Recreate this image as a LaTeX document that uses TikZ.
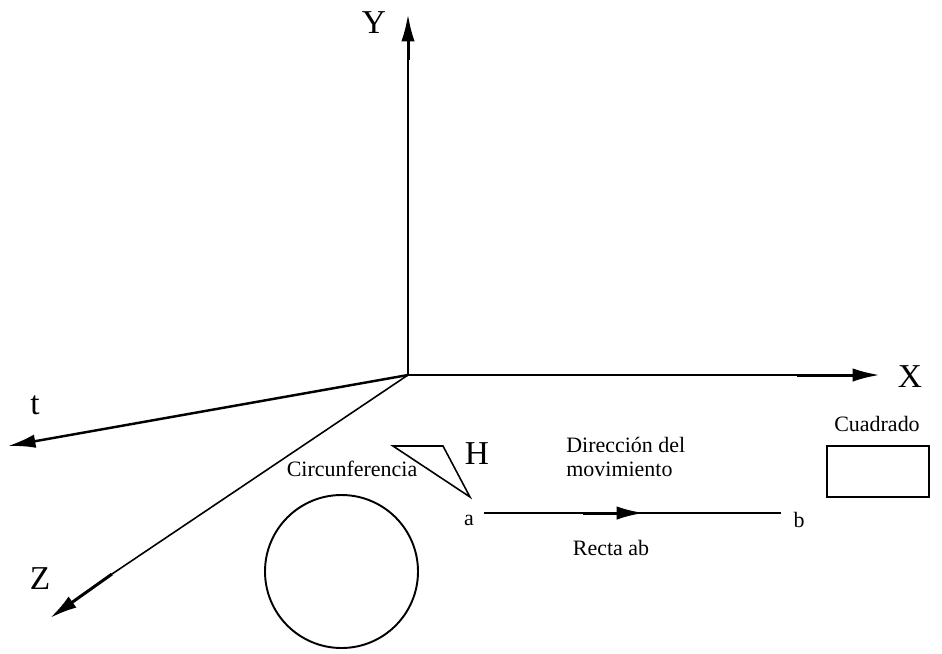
\documentclass[tikz,border=0pt]{standalone}
\usepackage{fontspec}
\setmainfont{Liberation Serif}
\usetikzlibrary{arrows.meta}

\tikzset{
    axis/.style={line width=0.9pt},
    tip/.style={line width=1.7pt, -{Latex[length=0.55cm, width=0.27cm]}},
    biglabel/.style={font=\fontsize{19}{21}\selectfont, inner sep=0pt},
    smalllabel/.style={font=\fontsize{12.5}{14}\selectfont, inner sep=0pt}
}

\begin{document}
\begin{tikzpicture}[x=0.02cm, y=-0.02cm]
    \useasboundingbox (0,0) rectangle (942,653);

    % Draw nodes
    \coordinate (O) at (408,375);
    \coordinate (ytip) at (408,14);
    \coordinate (ybase) at (408,60);
    \coordinate (xtip) at (880,375);
    \coordinate (xbase) at (797,375);
    \coordinate (ttip) at (8,446);
    \coordinate (ztip) at (50,618);
    \coordinate (zbase) at (112,574);
    \coordinate (a) at (484,513);
    \coordinate (b) at (781,513);
    \coordinate (abmid) at (583,513);
    \coordinate (abtip) at (644,513);
    \coordinate (h1) at (393,446);
    \coordinate (h2) at (443,446);
    \coordinate (h3) at (470,497);
    \node[circle, draw, line width=1.1pt, minimum size=153*0.02cm, inner sep=0pt] (circ) at (341.5,571.5) {};
    \node[draw, line width=1.1pt, minimum width=102*0.02cm, minimum height=51*0.02cm, inner sep=0pt] (sq) at (878,471.5) {};

    % Draw connections
    \draw[axis] (O) -- (ybase);
    \draw[tip] (ybase) -- (ytip);
    \draw[axis] (O) -- (xbase);
    \draw[tip] (xbase) -- (xtip);
    \draw[tip, line width=1.4pt] (O) -- (ttip);
    \draw[axis] (O) -- (zbase);
    \draw[tip] (zbase) -- (ztip);
    \draw[axis] (a) -- (b);
    \draw[tip] (abmid) -- (abtip);
    \draw[axis, line join=miter] (h1) -- (h2) -- (h3) -- cycle;

    % Labels
    \node[biglabel] (ylab) at (374,23) {Y};
    \node[biglabel] (xlab) at (910,377) {X};
    \node[biglabel] (tlab) at (35,405) {t};
    \node[biglabel] (zlab) at (40,579) {Z};
    \node[biglabel] (hlab) at (477,454) {H};
    \node[smalllabel] (circlab) at (352,469) {Circunferencia};
    \node[smalllabel, align=left, anchor=west] (movlab) at (566,457) {Dirección del\\movimiento};
    \node[smalllabel] (alab) at (469,520) {a};
    \node[smalllabel] (blab) at (799,520) {b};
    \node[smalllabel] (rectlab) at (611,548) {Recta ab};
    \node[smalllabel] (sqlab) at (877,424) {Cuadrado};
\end{tikzpicture}
\end{document}
